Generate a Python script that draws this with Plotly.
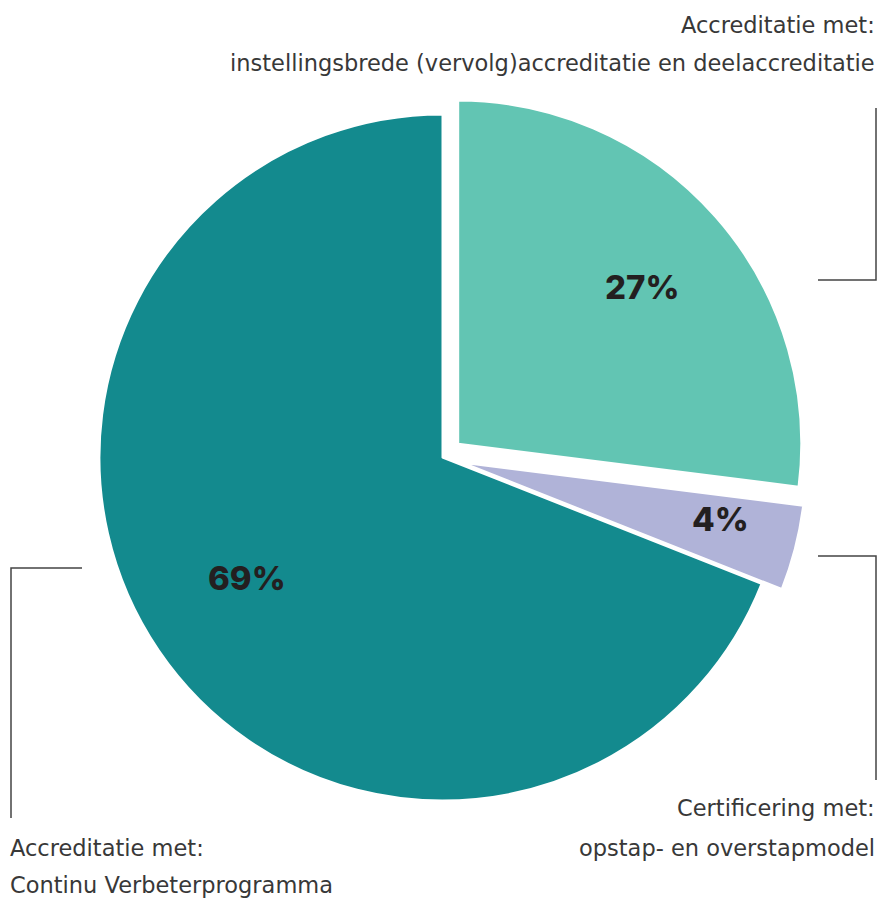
import math
import plotly.graph_objects as go

W, H = 881, 899

labels = ["instellingsbrede (vervolg)accreditatie en deelaccreditatie",
          "opstap- en overstapmodel",
          "Continu Verbeterprogramma"]
values = [27, 4, 69]
colors = ["#62C5B3", "#B0B3D8", "#138A8E"]
pulls = [0.061, 0.061, 0]

label_line1 = ["Accreditatie met:", "Certificering met:", "Accreditatie met:"]
label_line2 = ["instellingsbrede (vervolg)accreditatie en deelaccreditatie",
               "opstap- en overstapmodel",
               "Continu Verbeterprogramma"]

# placement of the percentage labels: fraction of radius, angle shift (deg)
label_radius = [0.705, 0.77, 0.67]
label_shift = [1.0, -2.0, 2.6]


def px(x):
    return x / W


def py(y):
    return 1 - y / H


cx, cy, half = 442.5, 457.5, 364
r = half / (1 + max(pulls))

fig = go.Figure(go.Pie(
    labels=labels,
    values=values,
    sort=False,
    direction="clockwise",
    rotation=0,
    pull=pulls,
    marker=dict(colors=colors, line=dict(color="white", width=2)),
    textinfo="none",
    hoverinfo="label+percent",
    showlegend=False,
    domain=dict(x=[px(cx - half), px(cx + half)], y=[py(cy + half), py(cy - half)]),
))

anns = []
total = sum(values)
start = 0.0
pct_font = dict(family="Inter", size=33, color="#231F20", weight=800)
for v, p, f, s in zip(values, pulls, label_radius, label_shift):
    mid_deg = (start + v / 2) / total * 360
    start += v
    mid = math.radians(mid_deg)
    ux, uy = math.sin(mid), -math.cos(mid)
    sx, sy = cx + p * r * ux, cy + p * r * uy
    a = math.radians(mid_deg + s)
    lx, ly = sx + f * r * math.sin(a), sy - f * r * math.cos(a)
    anns.append(dict(x=px(lx), y=py(ly), xref="paper", yref="paper",
                     xanchor="center", yanchor="middle", showarrow=False,
                     text=f"{v}%", font=pct_font))

font_lbl = dict(family="DejaVu Sans", size=22.5, color="#383838", weight=400)
# top-right label
anns.append(dict(x=px(877), y=py(25), xref="paper", yref="paper", xanchor="right", yanchor="middle",
                 text=label_line1[0], showarrow=False, font=font_lbl))
anns.append(dict(x=px(877), y=py(63), xref="paper", yref="paper", xanchor="right", yanchor="middle",
                 text=label_line2[0], showarrow=False, font=font_lbl))
# bottom-right label
anns.append(dict(x=px(877), y=py(808), xref="paper", yref="paper", xanchor="right", yanchor="middle",
                 text=label_line1[1], showarrow=False, font=font_lbl))
anns.append(dict(x=px(877), y=py(848), xref="paper", yref="paper", xanchor="right", yanchor="middle",
                 text=label_line2[1], showarrow=False, font=font_lbl))
# bottom-left label
anns.append(dict(x=px(8), y=py(848), xref="paper", yref="paper", xanchor="left", yanchor="middle",
                 text=label_line1[2], showarrow=False, font=font_lbl))
anns.append(dict(x=px(8), y=py(885), xref="paper", yref="paper", xanchor="left", yanchor="middle",
                 text=label_line2[2], showarrow=False, font=font_lbl))

line_style = dict(color="#444444", width=1.5)
paths = [
    [(876, 108), (876, 280), (818, 280)],
    [(818, 556), (876, 556), (876, 780)],
    [(82, 568), (11, 568), (11, 818)],
]
shapes = []
for pts in paths:
    d = "M " + " L ".join(f"{px(x)},{py(y)}" for x, y in pts)
    shapes.append(dict(type="path", path=d, xref="paper", yref="paper", line=line_style))

fig.update_layout(
    width=W, height=H,
    margin=dict(l=0, r=0, t=0, b=0),
    paper_bgcolor="white",
    plot_bgcolor="white",
    annotations=anns,
    shapes=shapes,
)

fig.write_html("out.html", config={"displayModeBar": False},
               post_script="document.body.style.margin='0';document.body.style.overflow='hidden';")
